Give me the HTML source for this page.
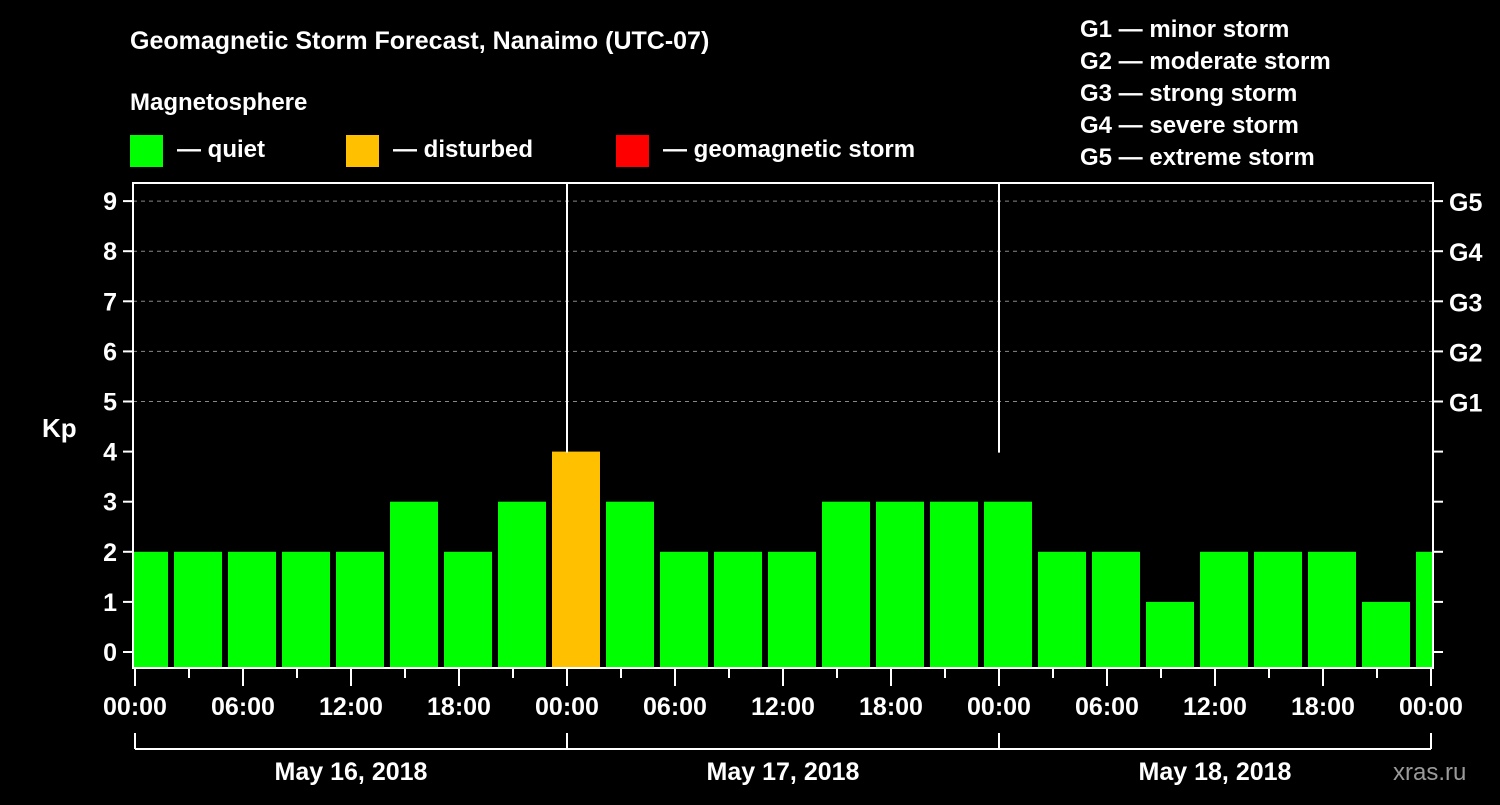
<!DOCTYPE html>
<html><head><meta charset="utf-8"><style>
html,body{margin:0;padding:0;background:#000;}
svg text{font-family:"Liberation Sans",Arial,sans-serif;font-weight:bold;fill:#fff;}
</style></head><body>
<svg id="chart" width="1500" height="800" xmlns="http://www.w3.org/2000/svg">
<rect width="1500" height="800" fill="#000"/>
<text x="130" y="49" font-size="25">Geomagnetic Storm Forecast, Nanaimo (UTC-07)</text>
<text x="130" y="110" font-size="24">Magnetosphere</text>
<rect x="130" y="135" width="33" height="32" fill="#00ff00"/>
<text x="177" y="157" font-size="24">— quiet</text>
<rect x="346" y="135" width="33" height="32" fill="#ffc000"/>
<text x="393" y="157" font-size="24">— disturbed</text>
<rect x="616" y="135" width="33" height="32" fill="#ff0000"/>
<text x="663" y="157" font-size="24">— geomagnetic storm</text>
<g font-size="24">
<text x="1080" y="37">G1 — minor storm</text>
<text x="1080" y="69">G2 — moderate storm</text>
<text x="1080" y="101">G3 — strong storm</text>
<text x="1080" y="133">G4 — severe storm</text>
<text x="1080" y="165">G5 — extreme storm</text>
</g>
<text x="42" y="437" font-size="26">Kp</text>
<text x="1393" y="780" font-size="24" fill="#999" style="fill:#9a9a9a;font-weight:normal">xras.ru</text>
<g id="grid"></g><g id="bars"></g><g id="axes"></g>
</svg>
<script>
const kpValues=[2,2,2,2,2,3,2,3,4,3,2,2,2,3,3,3,3,2,2,1,2,2,2,1,2];
const yTicks=[0,1,2,3,4,5,6,7,8,9];
const gLabels=["G1","G2","G3","G4","G5"];
const xTickLabels=["00:00","06:00","12:00","18:00","00:00","06:00","12:00","18:00","00:00","06:00","12:00","18:00","00:00"];
const dayLabels=["May 16, 2018","May 17, 2018","May 18, 2018"];
const NS="http://www.w3.org/2000/svg";
const L=133,R=1433,T=183,B=668,X0=135,PXH=18;
const y=v=>652-50.1*v;
const x=h=>X0+h*PXH;
function mk(tag,attrs,parent,txt){const e=document.createElementNS(NS,tag);for(const k in attrs)e.setAttribute(k,attrs[k]);if(txt!==undefined)e.textContent=txt;document.getElementById(parent).appendChild(e);return e;}
// grid
for(let v=5;v<=9;v++){const e=mk('line',{x1:L,x2:R,y1:y(v),y2:y(v),stroke:'#888','stroke-dasharray':'4,4','stroke-width':1},'grid');

}
// bars
kpValues.forEach((v,i)=>{let x1=x(i*3)-15,x2=x1+48;x1=Math.max(x1,L+1);x2=Math.min(x2,R-1);
const c=v>=5?'#ff0000':(v>=4?'#ffc000':'#00ff00');
const e=mk('rect',{x:x1,y:y(v),width:x2-x1,height:B-y(v),fill:c},'bars');

});
// day dividers
[1,2].forEach(d=>{const e=mk('line',{x1:x(d*24),x2:x(d*24),y1:T,y2:y(4)+1,stroke:'#fff','stroke-width':2},'axes');

});
// frame
const fr=mk('rect',{x:L,y:T,width:R-L,height:B-T,fill:'none',stroke:'#fff','stroke-width':2},'axes');


yTicks.forEach(v=>{mk('line',{x1:L-10,x2:L,y1:y(v),y2:y(v),stroke:'#fff','stroke-width':2},'axes');
mk('line',{x1:R,x2:R+10,y1:y(v),y2:y(v),stroke:'#fff','stroke-width':2},'axes');
const t=mk('text',{x:L-16,y:y(v)+9,'font-size':25,'text-anchor':'end'},'axes',String(v));

});
gLabels.forEach((g,i)=>{const t=mk('text',{x:1449,y:y(5+i)+10,'font-size':25},'axes',g);

});
for(let h=0;h<=72;h+=3){const maj=h%6===0;mk('line',{x1:x(h),x2:x(h),y1:B,y2:B+(maj?18:10),stroke:'#fff','stroke-width':2},'axes');}
xTickLabels.forEach((s,i)=>{const t=mk('text',{x:x(i*6),y:715,'font-size':25,'text-anchor':'middle'},'axes',s);

});
mk('line',{x1:x(0),x2:x(72),y1:749,y2:749,stroke:'#fff','stroke-width':2},'axes');
for(let d=0;d<=3;d++)mk('line',{x1:x(d*24),x2:x(d*24),y1:733,y2:749,stroke:'#fff','stroke-width':2},'axes');
dayLabels.forEach((s,i)=>{const t=mk('text',{x:x(i*24+12),y:780,'font-size':25,'text-anchor':'middle'},'axes',s);

});
</script>
</body></html>
